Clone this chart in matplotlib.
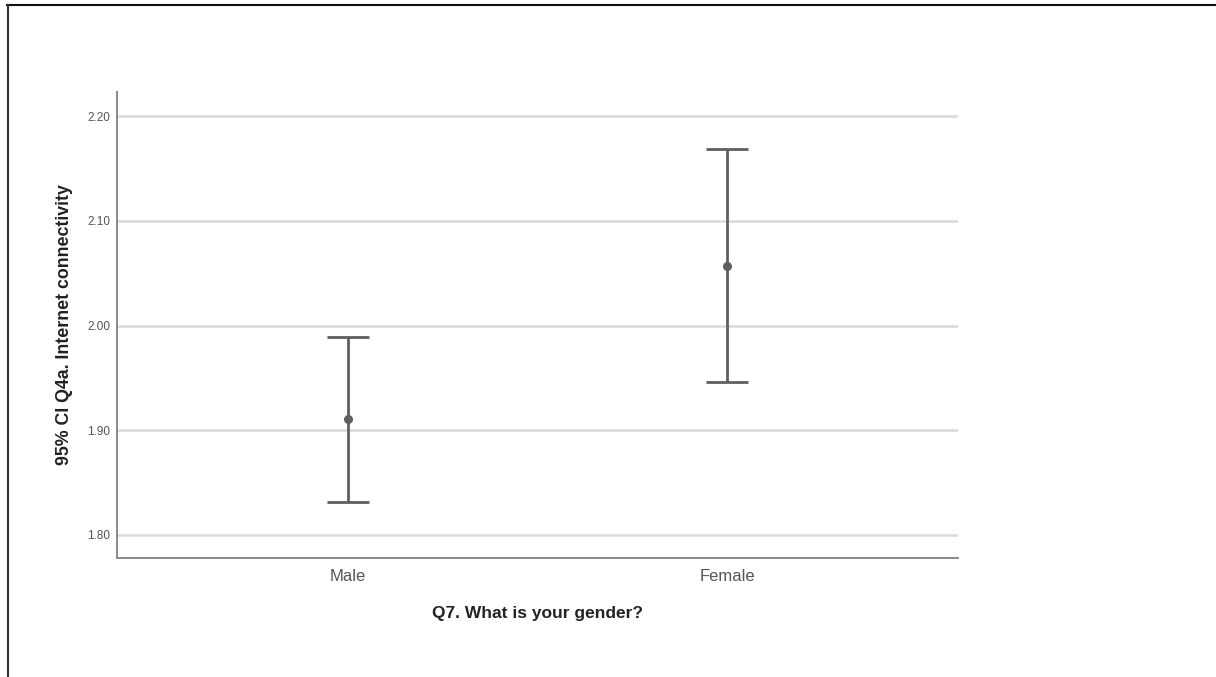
import matplotlib
matplotlib.use("Agg")
import matplotlib.pyplot as plt
from matplotlib.lines import Line2D

plt.rcParams['font.family'] = ['Liberation Sans', 'DejaVu Sans']

# Group means with 95% confidence limits
categories = ["Male", "Female"]
means = [1.9105, 2.0565]
ci_lower = [1.8314, 1.9457]
ci_upper = [1.9895, 2.1686]
y_ticks = [1.80, 1.90, 2.00, 2.10, 2.20]

W, H = 1216, 677
fig = plt.figure(figsize=(W / 100, H / 100), dpi=100)
fig.patch.set_facecolor("white")

# axes box in pixel coordinates: left 117, right 958, top 92, bottom 558
ax = fig.add_axes([117 / W, 1 - 558 / H, (958 - 117) / W, (558 - 92) / H])

x = list(range(len(categories)))
yerr = [[m - lo for m, lo in zip(means, ci_lower)],
        [hi - m for m, hi in zip(means, ci_upper)]]
ax.errorbar(x, means, yerr=yerr, fmt='o', color='#5f5f5f', ecolor='#5f5f5f',
            elinewidth=2.0, capsize=15, capthick=2.0, markersize=5.5, zorder=3)

ax.set_xlim(-0.609, 1.609)
ax.set_ylim(1.778, 2.223)
ax.set_yticks(y_ticks)
ax.set_yticklabels([f"{v:.2f}" for v in y_ticks], fontsize=8.5, color='#555555')
ax.set_xticks(x)
ax.set_xticklabels(categories, fontsize=12, color='#555555')
ax.tick_params(axis='both', length=0)
ax.tick_params(axis='y', pad=5)
ax.tick_params(axis='x', pad=8)

ax.grid(axis='y', color='#d9d9d9', linewidth=1.8, zorder=0)
ax.set_axisbelow(True)
for side in ('top', 'right'):
    ax.spines[side].set_visible(False)
for side in ('left', 'bottom'):
    ax.spines[side].set_color('#8a8a8a')
    ax.spines[side].set_linewidth(1.4)

ax.set_ylabel("95% CI Q4a. Internet connectivity", fontsize=12.8, fontweight='bold',
              color='#222222', labelpad=10)
ax.set_xlabel("Q7. What is your gender?", fontsize=12.5, fontweight='bold',
              color='#222222', labelpad=16)

# frame lines along the top and left edges of the canvas
fig.add_artist(Line2D([7 / W, 1.0], [1 - 5 / H, 1 - 5 / H], color='#111111',
                      linewidth=1.5, transform=fig.transFigure))
fig.add_artist(Line2D([8 / W, 8 / W], [0.0, 1 - 5 / H], color='#333333',
                      linewidth=1.5, transform=fig.transFigure))

fig.savefig("out.png", dpi=100, facecolor='white')
